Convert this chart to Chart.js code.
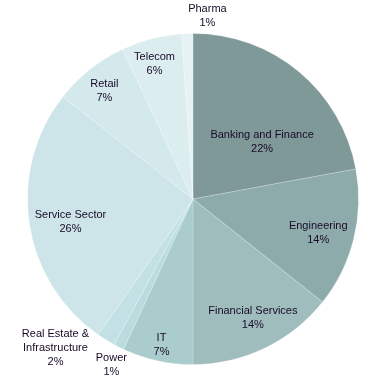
<!DOCTYPE html>
<html>
<head>
<meta charset="utf-8">
<script src="https://cdn.jsdelivr.net/npm/chart.js@4/dist/chart.umd.min.js"></script>
<style>
  html, body { margin: 0; padding: 0; background: #fff; }
  #wrap { width: 374px; height: 389px; position: relative; }
</style>
</head>
<body>
<div id="wrap"><canvas id="sectorChart"></canvas></div>
<script>
// sectors, clockwise from 12 o'clock
const arrSectors = [
  "Banking and Finance",
  "Engineering",
  "Financial Services",
  "IT",
  "Power",
  ["Real Estate &", "Infrastructure"],
  "Service Sector",
  "Retail",
  "Telecom",
  "Pharma",
];
const arrShare = [22.1, 13.6, 14.3, 6.9, 1.0, 1.8, 25.9, 7.4, 5.9, 1.1];
const arrColors = [
  "#7f9898", "#8eabab", "#a0bdbd", "#abcccc", "#badcdf",
  "#c3e1e4", "#cde5e9", "#d4e9ec", "#dcedf0", "#e6f2f4",
];

// where each label sits: fraction of radius, angle nudge in degrees
const labelPlace = [
  [0.555, 9], [0.78, 0], [0.79, -1.5], [0.885, 0], [1.10, 0],
  [1.21, 11.7], [0.75, -0.7], [0.86, 0], [0.865, -1], [1.13, 6.4],
];

const sliceLabels = {
  id: "sliceLabels",
  afterDatasetsDraw(chart) {
    const ctx = chart.ctx;
    const meta = chart.getDatasetMeta(0);
    ctx.save();
    ctx.font = "11px 'Liberation Sans', Arial, sans-serif";
    ctx.fillStyle = "#180a28";
    ctx.textAlign = "center";
    ctx.textBaseline = "middle";
    meta.data.forEach((arc, i) => {
      const p = arc.getProps(["x", "y", "startAngle", "endAngle", "outerRadius"], true);
      const place = labelPlace[i];
      const mid = (p.startAngle + p.endAngle) / 2 + place[1] * Math.PI / 180;
      const r = p.outerRadius * place[0];
      const cx = p.x + Math.cos(mid) * r;
      const cy = p.y + Math.sin(mid) * r + 3;
      let lines = [].concat(chart.data.labels[i]);
      lines.push(Math.round(arrShare[i]) + "%");
      const lh = 14;
      const top = cy - (lines.length - 1) * lh / 2;
      lines.forEach((t, k) => ctx.fillText(t, cx, top + k * lh));
    });
    ctx.restore();
  },
};

new Chart(document.getElementById("sectorChart"), {
  type: "pie",
  plugins: [sliceLabels],
  data: {
    labels: arrSectors,
    datasets: [
      {
        data: arrShare,
        backgroundColor: arrColors,
        borderColor: "rgba(255,255,255,0.2)",
        borderWidth: 1,
      },
    ],
  },
  options: {
    responsive: true,
    maintainAspectRatio: false,
    animation: false,
    layout: { padding: { top: 33, bottom: 24, left: 27, right: 15 } },
    plugins: {
      legend: { display: false },
      tooltip: { enabled: false },
    },
  },
});
</script>
</body>
</html>
